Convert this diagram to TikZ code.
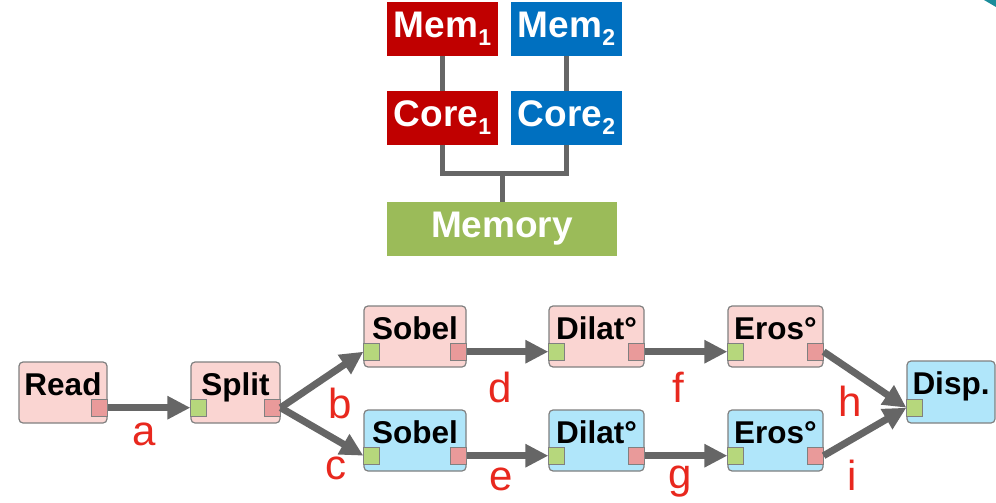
\documentclass[tikz,border=0pt]{standalone}
\usepackage{fontspec}
\setmainfont{Liberation Sans}
\usetikzlibrary{arrows.meta}
\definecolor{cred}{HTML}{C00000}
\definecolor{cblue}{HTML}{0070C0}
\definecolor{cgreen}{HTML}{9BBB59}
\definecolor{pinkfill}{HTML}{FAD5D2}
\definecolor{bluefill}{HTML}{B0E6FA}
\definecolor{portg}{HTML}{B6D77C}
\definecolor{portr}{HTML}{E99A9A}
\definecolor{edgegray}{HTML}{808080}
\definecolor{linegray}{HTML}{666666}
\definecolor{lblred}{HTML}{E8281E}
\definecolor{cornerteal}{HTML}{1A8C9A}
\newcommand{\mysub}[1]{\raisebox{-8pt}{\fontsize{23}{23}\selectfont #1}}
\tikzset{
  tbox/.style={minimum width=111pt, minimum height=54pt, inner sep=0pt, text=white,
    font=\bfseries\fontsize{37}{37}\selectfont},
  conn/.style={draw=linegray, line width=5pt},
  pbox/.style={draw=edgegray, line width=1.2pt, rounded corners=4pt, minimum height=61pt, inner sep=0pt},
  pinkbox/.style={pbox, fill=pinkfill},
  bluebox/.style={pbox, fill=bluefill},
  boxtext/.style={anchor=base, inner sep=0pt, font=\bfseries\fontsize{31.5}{31.5}\selectfont},
  port/.style={draw=edgegray, line width=0.8pt, minimum width=16pt, minimum height=17pt, inner sep=0pt},
  gport/.style={port, fill=portg, anchor=south west},
  rport/.style={port, fill=portr, anchor=south east},
  flow/.style={draw=linegray, line width=7pt, -{Triangle[length=23pt,width=22pt]}},
  lbl/.style={text=lblred, inner sep=0pt, font=\fontsize{42}{42}\selectfont}
}
\begin{document}
\begin{tikzpicture}[x=1pt,y=-1pt]
\useasboundingbox (0,0) rectangle (996,503);
\fill[cornerteal] (984,0) -- (996,0) -- (996,7) -- cycle;

% top hierarchy
\node[tbox, fill=cred] (mem1) at (442.5,29) {Mem\mysub{1}};
\node[tbox, fill=cblue] (mem2) at (566.5,29) {Mem\mysub{2}};
\node[tbox, fill=cred] (core1) at (442.5,118) {Core\mysub{1}};
\node[tbox, fill=cblue] (core2) at (566.5,118) {Core\mysub{2}};
\node[tbox, fill=cgreen, minimum width=230pt] (memory) at (502,229) {Memory};
\coordinate (j) at (502,173);
\draw[conn] (mem1) -- (core1);
\draw[conn] (mem2) -- (core2);
\draw[conn] (core1.south) -- (core1.south |- j) -- (core2.south |- j) -- (core2.south);
\draw[conn] (j) -- (memory.north);

% process boxes
\node[pinkbox, minimum width=88pt] (read) at (63,392.5) {};
\node[pinkbox, minimum width=89pt] (split) at (235.5,392.5) {};
\node[pinkbox, minimum width=102pt] (sobelA) at (415,336.5) {};
\node[pinkbox, minimum width=95pt] (dilatA) at (596.5,336.5) {};
\node[pinkbox, minimum width=95pt] (erosA) at (775.5,336.5) {};
\node[bluebox, minimum width=102pt] (sobelB) at (415,440.5) {};
\node[bluebox, minimum width=95pt] (dilatB) at (596.5,440.5) {};
\node[bluebox, minimum width=95pt] (erosB) at (775.5,440.5) {};
\node[bluebox, minimum width=88pt, minimum height=62pt] (disp) at (951,392) {};

\foreach \b/\t in {read/Read, split/Split, sobelA/Sobel, dilatA/Dilat°, erosA/Eros°,
                   sobelB/Sobel, dilatB/Dilat°, erosB/Eros°, disp/Disp.}{
  \node[boxtext] (\b T) at ([yshift=-34.5pt]\b.north) {\t};
}
% ports
\foreach \b in {split, sobelA, dilatA, erosA, sobelB, dilatB, erosB, disp}{
  \node[gport] (\b I) at ([yshift=7pt]\b.south west) {};
}
\foreach \b in {read, split, sobelA, dilatA, erosA, sobelB, dilatB, erosB}{
  \node[rport] (\b O) at ([yshift=7pt]\b.south east) {};
}

% flows
\draw[flow] (readO.east) -- (splitI.west);
\draw[flow] (splitO.east) -- (sobelAI.west);
\draw[flow] (splitO.east) -- (sobelBI.west);
\draw[flow] (sobelAO.east) -- (dilatAI.west);
\draw[flow] (dilatAO.east) -- (erosAI.west);
\draw[flow] (sobelBO.east) -- (dilatBI.west);
\draw[flow] (dilatBO.east) -- (erosBI.west);
\draw[flow] (erosAO.east) -- (dispI.west);
\draw[flow] (erosBO.east) -- (dispI.west);

% labels
\node[lbl] (la) at (144,434) {a};
\node[lbl] (lb) at (340,403) {b};
\node[lbl] (lc) at (336,468) {c};
\node[lbl] (ld) at (500,387) {d};
\node[lbl] (le) at (501,479) {e};
\node[lbl] (lf) at (678,387) {f};
\node[lbl] (lg) at (680,482) {g};
\node[lbl] (lh) at (850,401) {h};
\node[lbl] (li) at (852,475) {i};
\end{tikzpicture}
\end{document}
